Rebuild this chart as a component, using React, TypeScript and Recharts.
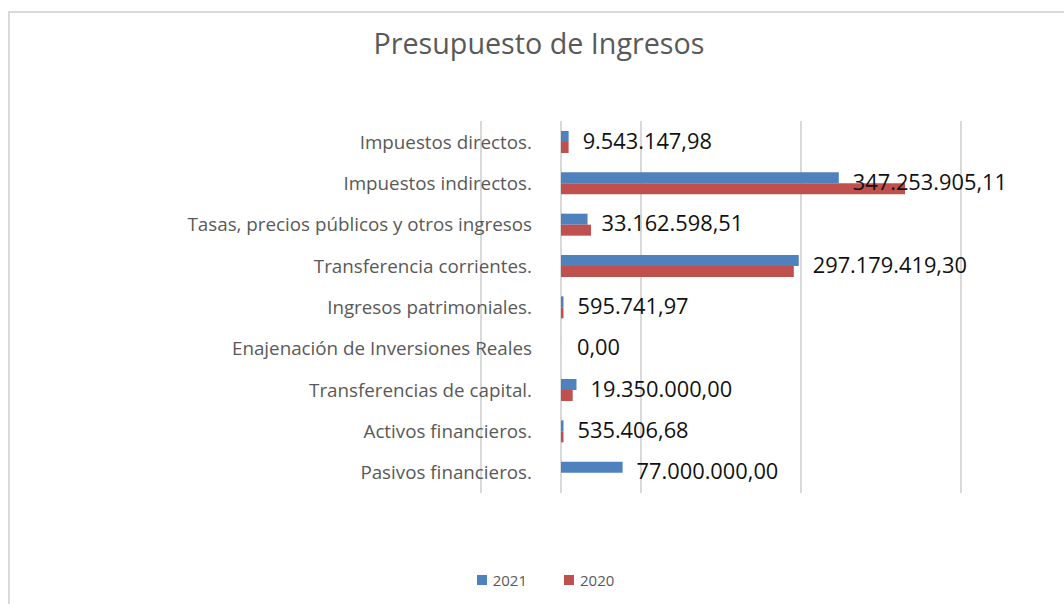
import React from "react";
import { BarChart, Bar, XAxis, YAxis, CartesianGrid, Legend, LabelList } from "recharts";

const categories = [
  "Impuestos directos.",
  "Impuestos indirectos.",
  "Tasas, precios públicos y otros ingresos",
  "Transferencia corrientes.",
  "Ingresos patrimoniales.",
  "Enajenación de Inversiones Reales",
  "Transferencias de capital.",
  "Activos financieros.",
  "Pasivos financieros.",
];
const values2021 = [9543147.98, 347253905.11, 33162598.51, 297179419.3, 595741.97, 0, 19350000, 535406.68, 77000000];
const values2020 = [9500000, 430000000, 37500000, 291000000, 600000, 0, 14600000, 500000, 0];
const seriesNames = ["2021", "2020"];
const seriesColors = ["#4F81BD", "#C0504D"];
const xTicks = [-100000000, 0, 100000000, 300000000, 500000000];
const xDomain = [-100000000, 500000000];
const title = "Presupuesto de Ingresos";

const data = categories.map((name, i) => ({ name, v2021: values2021[i], v2020: values2020[i] }));

const FONT = "'Open Sans', sans-serif";

function fmt(v: number): string {
  const [intPart, dec] = Math.abs(v).toFixed(2).split(".");
  const grouped = intPart.replace(/\B(?=(\d{3})+(?!\d))/g, ".");
  return (v < 0 ? "-" : "") + grouped + "," + dec;
}

const CatTick = (props: any) => {
  const { x, y, payload } = props;
  return (
    <text x={x + 51} y={y} textAnchor="end" dominantBaseline="central" fontFamily={FONT} fontSize={18.8} fill="#595959">
      {payload.value}
    </text>
  );
};

const ValueLabel = (props: any) => {
  const { x, y, width, height, value } = props;
  const w = Number(width) || 0;
  const extra = w < 1 ? 2 : 0;
  return (
    <text x={x + w + 14 + extra} y={y + height - 2} dominantBaseline="central" fontFamily={FONT} fontSize={21.8} fill="#111">
      {fmt(Number(value))}
    </text>
  );
};

const LegendContent = () => (
  <div style={{ display: "flex", justifyContent: "center", alignItems: "center", height: 20, paddingLeft: 17, fontFamily: FONT, fontSize: 15, color: "#595959" }}>
    {seriesNames.map((n, i) => (
      <div key={n} style={{ display: "flex", alignItems: "center", marginLeft: i === 0 ? 0 : 37 }}>
        <div style={{ width: 10, height: 10, background: seriesColors[i], marginRight: 6 }} />
        <span>{n}</span>
      </div>
    ))}
  </div>
);

export default function App() {
  return (
    <div>
      <style>{"body{margin:0;overflow:hidden;}"}</style>
      <div style={{ position: "absolute", left: 8, top: 11, width: 1056, height: 593, borderLeft: "2px solid #d9d9d9", borderTop: "2px solid #d9d9d9", background: "#fff" }}>
        <div style={{ position: "absolute", left: 0, top: 14, width: 1058, textAlign: "center", fontFamily: FONT, fontSize: 28.7, color: "#595959", lineHeight: "32px" }}>
          {title}
        </div>
        <BarChart
          width={1054}
          height={591}
          data={data}
          layout="vertical"
          margin={{ top: 108, right: 103, left: 0, bottom: 91 }}
          barSize={11}
          barGap={0}
        >
          <CartesianGrid horizontal={false} vertical={true} stroke="#d9d9d9" strokeWidth={2} />
          <XAxis type="number" domain={xDomain} ticks={xTicks} hide allowDataOverflow />
          <YAxis type="category" dataKey="name" width={471} axisLine={false} tickLine={false} tickSize={0} tickMargin={0} tick={<CatTick />} interval={0} />
          <Legend verticalAlign="bottom" height={20} content={<LegendContent />} wrapperStyle={{ top: 557, left: 0, width: 1054 }} />
          <Bar dataKey="v2021" name={seriesNames[0]} fill={seriesColors[0]} isAnimationActive={false} minPointSize={(v: number) => (v > 0 ? 2.5 : 0.01)}>
            <LabelList dataKey="v2021" content={<ValueLabel />} />
          </Bar>
          <Bar dataKey="v2020" name={seriesNames[1]} fill={seriesColors[1]} isAnimationActive={false} minPointSize={(v: number) => (v > 0 ? 2.5 : 0)} />
        </BarChart>
      </div>
    </div>
  );
}
